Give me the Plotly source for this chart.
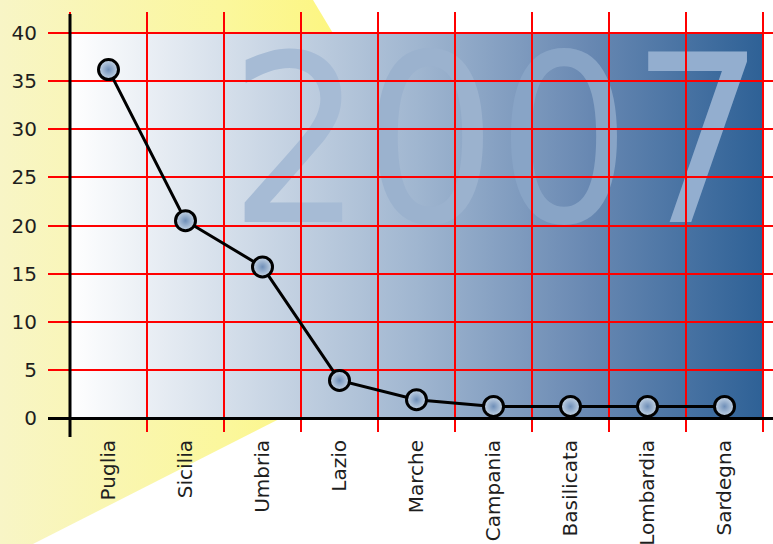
import plotly.graph_objects as go

# ---------------- data ----------------
categories = ["Puglia", "Sicilia", "Umbria", "Lazio", "Marche",
              "Campania", "Basilicata", "Lombardia", "Sardegna"]
values = [36.2, 20.5, 15.7, 3.9, 1.9, 1.2, 1.2, 1.2, 1.2]
y_ticks = [0, 5, 10, 15, 20, 25, 30, 35, 40]
year_label = "2007"
year_digit_colors = ["#a6bbd5", "#9bb2ce", "#88a4c6", "#93aecf"]

# ---------------- geometry (pixels) ----------------
W, H = 773, 544
cat_left, cat_right = 70, 763          # category band
dom_left, dom_right = 48, 773          # grid extent (plot domain)
dom_top, dom_bot = 12, 432
y_zero_px, y_top_px = 418, 33          # pixel of y=0 and y=max tick

n = len(categories)
ymax = max(y_ticks)
px_per_cat = (cat_right - cat_left) / n
px_per_unit = (y_zero_px - y_top_px) / ymax


def px_to_x(px):
    return (px - cat_left) / px_per_cat - 0.5


def px_to_y(py):
    return (y_zero_px - py) / px_per_unit


x_range = [px_to_x(dom_left), px_to_x(dom_right)]
y_range = [px_to_y(dom_bot), px_to_y(dom_top)]
x_dom = [dom_left / W, dom_right / W]
y_dom = [1 - dom_bot / H, 1 - dom_top / H]

fig = go.Figure()

# 1) yellow wedge in page-pixel space (bottom subplot)
wedge_x = [0, 313, 498, 33, 0, 0]
wedge_y = [0, 0, 308, 544, 544, 0]
fig.add_trace(go.Scatter(
    x=wedge_x, y=wedge_y, mode="none", fill="toself",
    fillgradient=dict(type="horizontal",
                      colorscale=[[0, "#f8f5c6"], [0.45, "#fbf79c"], [1, "#fff45a"]]),
    xaxis="x", yaxis="y", hoverinfo="skip", showlegend=False))

# 2) plot-area gradient background (data space, middle subplot)
fig.add_trace(go.Scatter(
    x=[-0.5, n - 0.5, n - 0.5, -0.5, -0.5], y=[0, 0, ymax, ymax, 0],
    mode="none", fill="toself",
    fillgradient=dict(type="horizontal",
                      colorscale=[[0, "#ffffff"], [0.25, "#d0dbe8"], [0.5, "#a0b6d0"],
                                  [0.75, "#6888b2"], [1, "#2e6196"]]),
    xaxis="x2", yaxis="y2", hoverinfo="skip", showlegend=False))

# 3) big year watermark
year_html = "".join(f'<span style="color:{c}">{d}</span>'
                    for d, c in zip(year_label, year_digit_colors))
fig.add_trace(go.Scatter(
    x=[px_to_x(497)], y=[px_to_y(163)], mode="text", text=[year_html],
    textposition="middle center", cliponaxis=False,
    textfont=dict(size=234, family="DejaVu Sans Condensed, DejaVu Sans", color="#9fb5d0"),
    xaxis="x2", yaxis="y2", hoverinfo="skip", showlegend=False))

# 4) the data line
fig.add_trace(go.Scatter(
    x=categories, y=values, mode="lines+markers",
    line=dict(color="black", width=3),
    marker=dict(size=20, color="#c8d7e7",
                gradient=dict(type="radial", color="#6f8fb8"),
                line=dict(color="black", width=3)),
    xaxis="x3", yaxis="y3", showlegend=False, cliponaxis=False))

hidden = dict(visible=False, showgrid=False, zeroline=False, fixedrange=True)

fig.update_layout(
    width=W, height=H,
    margin=dict(l=0, r=0, t=0, b=0, pad=0),
    paper_bgcolor="white", plot_bgcolor="rgba(0,0,0,0)",
    showlegend=False, hovermode=False,
    xaxis=dict(domain=[0, 1], range=[0, W], anchor="y", **hidden),
    yaxis=dict(domain=[0, 1], range=[H, 0], anchor="x", **hidden),
    xaxis2=dict(domain=x_dom, range=x_range, anchor="y2", **hidden),
    yaxis2=dict(domain=y_dom, range=y_range, anchor="x2", **hidden),
    xaxis3=dict(domain=x_dom, range=x_range, anchor="y3", type="category",
                categoryorder="array", categoryarray=categories,
                tickson="boundaries", showgrid=True, gridcolor="#ff0000", gridwidth=2,
                ticks="", showline=False, zeroline=False, tickangle=-90,
                ticklabelstandoff=3, automargin=False,
                tickfont=dict(family="DejaVu Sans", size=20, color="#1e1e1e")),
    yaxis3=dict(domain=y_dom, range=y_range, anchor="x3",
                tickvals=y_ticks, showgrid=True, gridcolor="#ff0000", gridwidth=2,
                zeroline=True, zerolinecolor="black", zerolinewidth=3,
                ticks="", showline=False, ticklabelstandoff=10, automargin=False,
                tickfont=dict(family="DejaVu Sans", size=20, color="#1e1e1e")),
    shapes=[dict(type="line", xref="x3", yref="paper",
                 x0=-0.5, x1=-0.5, y0=1 - 437 / H, y1=1 - 14 / H,
                 line=dict(color="black", width=3), layer="above")],
)

fig.write_html("out.html")
